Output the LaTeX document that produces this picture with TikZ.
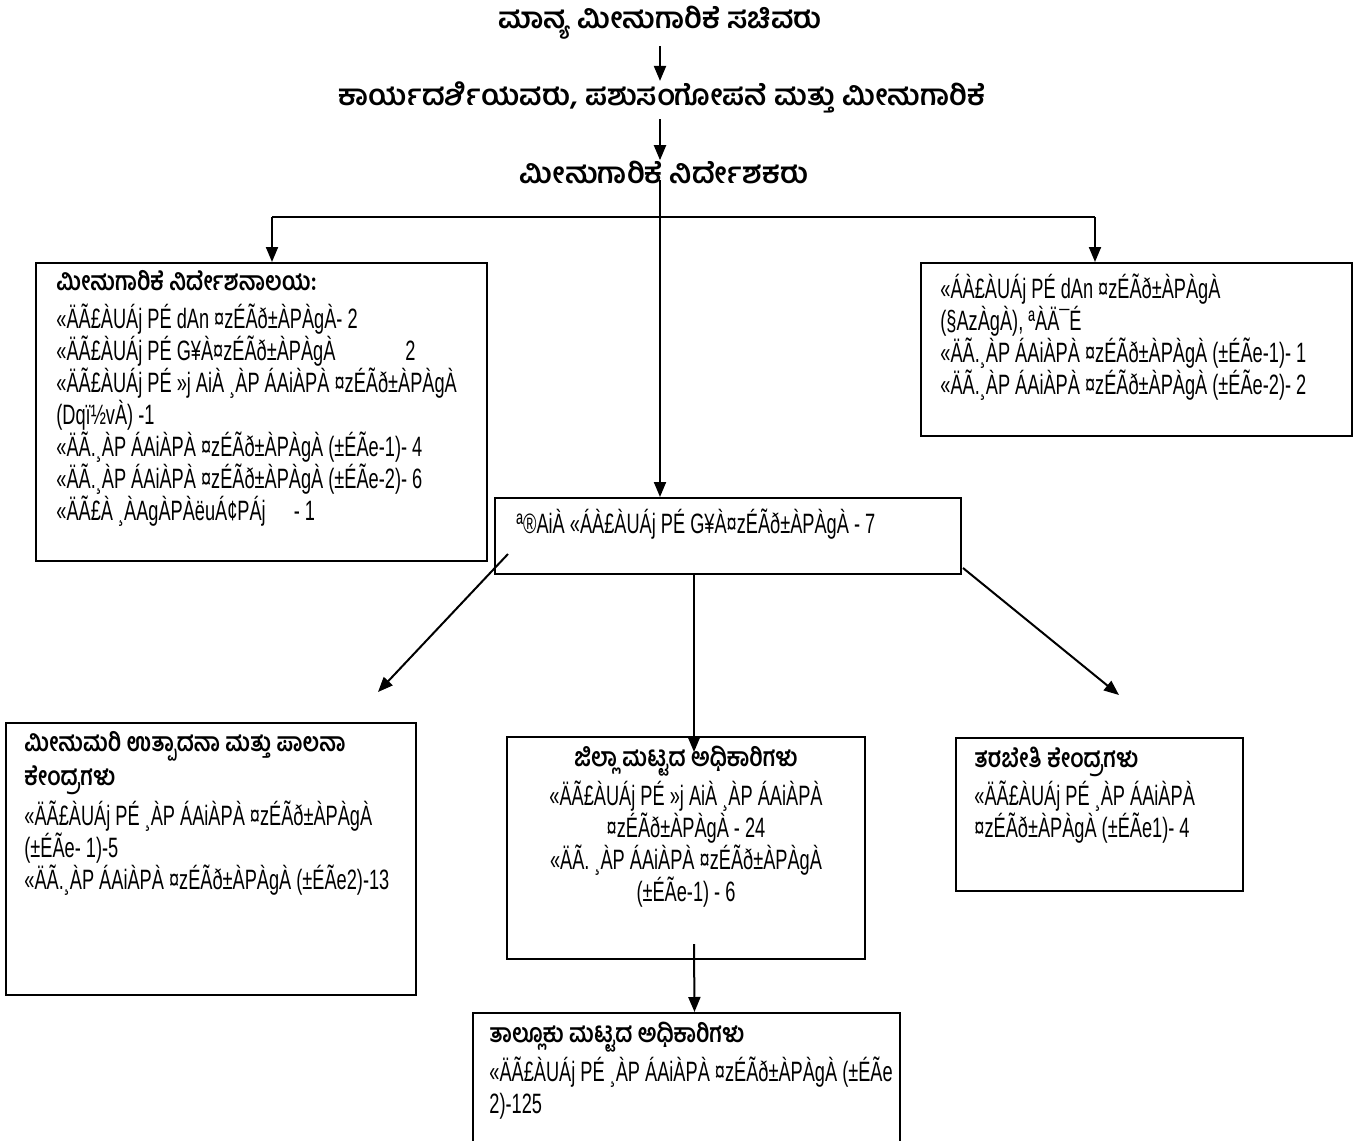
\documentclass[tikz,border=0pt]{standalone}
\usepackage{fontspec}
\setmainfont{Liberation Sans}[FakeStretch=0.65]
\newfontfamily\kanfont[Script=Kannada]{Hind Mysuru}
\newfontfamily\kanboxfont[Script=Kannada,FakeStretch=0.84]{Hind Mysuru}
\usetikzlibrary{arrows.meta,fit}

\newcommand\kn[1]{{\kanboxfont\bfseries\fontsize{13}{16}\selectfont #1}}

\begin{document}
\begin{tikzpicture}[x=0.5pt,y=-0.5pt,
  orgbox/.style={draw,line width=1pt,inner sep=0pt},
  link/.style={line width=1pt},
  conn/.style={line width=1pt,-{Triangle[length=7.5pt,width=6pt]}},
  heading/.style={font=\kanfont\bfseries\fontsize{14.5}{17}\selectfont,inner sep=0pt},
  note/.style={anchor=north west,align=left,inner sep=0pt,font=\fontsize{14}{16}\selectfont}]
\clip (0,0) rectangle (1367,1141);

% top of the chart
\node[heading] (minister) at (660,23) {ಮಾನ್ಯ ಮೀನುಗಾರಿಕೆ ಸಚಿವರು};
\node[heading] (secretary) at (662,97) {ಕಾರ್ಯದರ್ಶಿಯವರು, ಪಶುಸಂಗೋಪನೆ ಮತ್ತು ಮೀನುಗಾರಿಕೆ};
\node[heading] (director) at (664,172) {ಮೀನುಗಾರಿಕೆ ನಿರ್ದೇಶಕರು};

% boxes
\node[orgbox,fit={(36,263) (487,561)}] (dirbox) {};
\node[orgbox,fit={(921,263) (1352,436)}] (portbox) {};
\node[orgbox,fit={(495,498) (961,574)}] (regbox) {};
\node[orgbox,fit={(6,723) (416,995)}] (seedbox) {};
\node[orgbox,fit={(507,737) (865,959)}] (distbox) {};
\node[orgbox,fit={(956,738) (1243,891)}] (trainbox) {};
\node[orgbox,fit={(473,1013) (900,1160)}] (talukbox) {};

% texts in the boxes
\node[note] (dirtext) at ([shift={(21,8)}]dirbox.north west) {\kn{ಮೀನುಗಾರಿಕೆ ನಿರ್ದೇಶನಾಲಯ:}\\[3pt]
  «ÄÃ£ÀUÁj PÉ dAn ¤zÉÃð±ÀPÀgÀ- 2\\
  «ÄÃ£ÀUÁj PÉ G¥À¤zÉÃð±ÀPÀgÀ\hspace{2.5em}2\\
  «ÄÃ£ÀUÁj PÉ »j AiÀ ¸ÀP ÁAiÀPÀ ¤zÉÃð±ÀPÀgÀ\\
  (Dqï½vÀ) -1\\
  «ÄÃ.¸ÀP ÁAiÀPÀ ¤zÉÃð±ÀPÀgÀ (±ÉÃe-1)- 4\\
  «ÄÃ.¸ÀP ÁAiÀPÀ ¤zÉÃð±ÀPÀgÀ (±ÉÃe-2)- 6\\
  «ÄÃ£À ¸ÀAgÀPÀëuÁ¢PÁj\hspace{1em}- 1};
\node[note] (porttext) at ([shift={(20,12)}]portbox.north west) {«ÁÀ£ÀUÁj PÉ dAn ¤zÉÃð±ÀPÀgÀ\\
  (§AzÀgÀ), ªÀÄ¯É\\
  «ÄÃ.¸ÀP ÁAiÀPÀ ¤zÉÃð±ÀPÀgÀ (±ÉÃe-1)- 1\\
  «ÄÃ.¸ÀP ÁAiÀPÀ ¤zÉÃð±ÀPÀgÀ (±ÉÃe-2)- 2};
\node[note] (regtext) at ([shift={(22,12)}]regbox.north west) {ª®AiÀ «ÁÀ£ÀUÁj PÉ G¥À¤zÉÃð±ÀPÀgÀ - 7};
\node[note] (seedtext) at ([shift={(19,9)}]seedbox.north west) {\kn{ಮೀನುಮರಿ ಉತ್ಪಾದನಾ ಮತ್ತು ಪಾಲನಾ}\\[1pt]
  \kn{ಕೇಂದ್ರಗಳು}\\[2pt]
  «ÄÃ£ÀUÁj PÉ ¸ÀP ÁAiÀPÀ ¤zÉÃð±ÀPÀgÀ\\
  (±ÉÃe- 1)-5\\
  «ÄÃ.¸ÀP ÁAiÀPÀ ¤zÉÃð±ÀPÀgÀ (±ÉÃe2)-13};
\node[note,anchor=north,align=center] (disttext) at ([shift={(0,10)}]distbox.north) {\kn{ಜಿಲ್ಲಾ ಮಟ್ಟದ ಅಧಿಕಾರಿಗಳು}\\[1pt]
  «ÄÃ£ÀUÁj PÉ »j AiÀ ¸ÀP ÁAiÀPÀ\\
  ¤zÉÃð±ÀPÀgÀ - 24\\
  «ÄÃ. ¸ÀP ÁAiÀPÀ ¤zÉÃð±ÀPÀgÀ\\
  (±ÉÃe-1) - 6};
\node[note] (traintext) at ([shift={(19,10)}]trainbox.north west) {\kn{ತರಬೇತಿ ಕೇಂದ್ರಗಳು}\\[1pt]
  «ÄÃ£ÀUÁj PÉ ¸ÀP ÁAiÀPÀ\\
  ¤zÉÃð±ÀPÀgÀ (±ÉÃe1)- 4};
\node[note] (taluktext) at ([shift={(17,10)}]talukbox.north west) {\kn{ತಾಲ್ಲೂಕು ಮಟ್ಟದ ಅಧಿಕಾರಿಗಳು}\\[1pt]
  «ÄÃ£ÀUÁj PÉ ¸ÀP ÁAiÀPÀ ¤zÉÃð±ÀPÀgÀ (±ÉÃe\\
  2)-125};

% connectors
\coordinate (stem) at (660,180);
\coordinate (leftdrop) at (272,217);
\coordinate (rightdrop) at (1095,217);
\coordinate (seedtip) at (378,692);
\coordinate (traintip) at (1119,695);
\draw[conn,shorten <=3pt] (minister.south -| stem) -- (secretary.north -| stem);
\draw[conn,shorten <=3pt] (secretary.south -| stem) -- (director.north -| stem);
\draw[conn] (stem) -- (stem |- regbox.north);
\draw[link] (leftdrop) -- (rightdrop);
\draw[conn] (leftdrop) -- (leftdrop |- dirbox.north);
\draw[conn] (rightdrop) -- (rightdrop |- portbox.north);
\draw[conn] ([shift={(14,-21)}]regbox.south west) -- (seedtip);
\draw[conn] ([shift={(1,-7)}]regbox.south east) -- (traintip);
\draw[conn] ([xshift=-17pt]regbox.south) -- ([xshift=4pt,yshift=-8pt]distbox.north);
\draw[conn] ([xshift=4pt,yshift=8pt]distbox.south) -- ([xshift=4pt]talukbox.north);
\end{tikzpicture}
\end{document}
